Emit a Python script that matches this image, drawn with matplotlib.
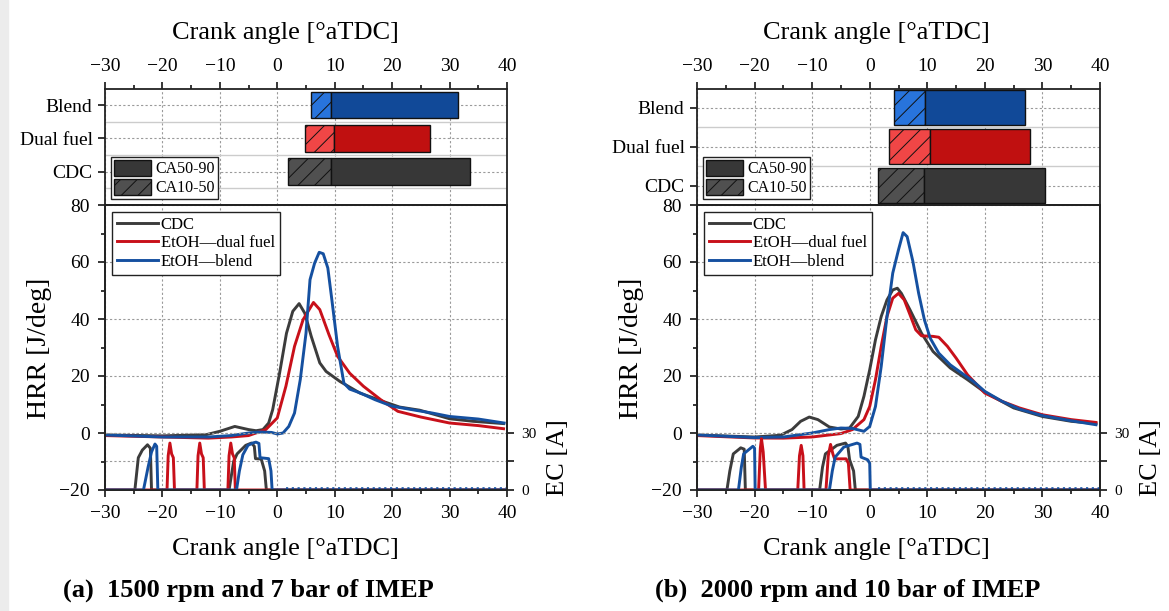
import matplotlib
matplotlib.use('Agg')
import matplotlib.pyplot as plt
from matplotlib.patches import Patch, Rectangle
from matplotlib.lines import Line2D
from matplotlib.ticker import MultipleLocator

plt.rcParams['font.family'] = ['Liberation Serif', 'DejaVu Serif']
plt.rcParams['hatch.linewidth'] = 0.7

c_cdc = '#3c3c3c'
c_df = '#c8101a'
c_bl = '#1550a0'

# combustion phasing bars: CA10, CA50, CA90 per case
cats = ['CDC', 'Dual fuel', 'Blend']
a_ca10 = [1.9, 4.9, 5.9]
a_ca50 = [9.4, 9.8, 9.4]
a_ca90 = [33.6, 26.6, 31.4]
b_ca10 = [1.4, 3.3, 4.3]
b_ca50 = [9.4, 10.4, 9.6]
b_ca90 = [30.4, 27.8, 26.9]

solid_cols = ['#373737', '#c01010', '#114998']
hatch_cols = ['#505050', '#f04646', '#2874dc']

# HRR, panel (a)
a_cdc_ca = [-30, -20, -12.4, -10, -7.4, -5, -3.7, -2.5, -1.5, -0.8, 0.4, 1.6, 2.7, 3.8, 4.8, 5.9,
            7.4, 8.5, 10.9, 14.4, 18.4, 21.3, 24.8, 30, 34.1, 39.4]
a_cdc_hrr = [-0.7, -1.0, -0.6, 0.6, 2.3, 1.2, 0.8, 1.2, 3.5, 8.2, 21, 35, 42.7, 45.4, 42, 34,
             24.6, 21.6, 18.1, 14, 11.1, 9.1, 8, 5, 4.1, 3.3]
a_df_ca = [-30, -20, -12, -8, -5, -2, 0, 1.5, 3, 4.5, 6.3, 7.4, 9, 10.5, 12.6, 15, 18, 21, 25,
           30, 35, 39.4]
a_df_hrr = [-0.9, -1.4, -1.8, -1.4, -0.9, 1.2, 5.3, 16.4, 30.4, 39.8, 45.8, 43.3, 34.5, 26.9,
            21, 16.4, 11.7, 7.6, 5.6, 3.5, 2.6, 1.5]
a_bl_ca = [-30, -20, -12, -8, -5, -3, -1, 0, 1, 2, 3, 4, 5, 5.7, 6.5, 7.3, 8, 8.8, 9.5, 10.5,
           11.6, 12.6, 14.5, 17, 20, 24, 27, 30, 35, 39.5]
a_bl_hrr = [-0.7, -1.4, -1.4, -0.9, 0, 0.35, 0.2, -0.35, 0, 2.3, 7, 18.7, 35, 53.8, 59.6, 63.4,
            62.9, 57.9, 46.8, 30.4, 17.5, 15.4, 14, 11.7, 9.4, 8, 7, 5.8, 4.9, 3.5]

# HRR, panel (b)
b_cdc_ca = [-30, -20, -15.5, -13.5, -12, -10.5, -9, -7, -5, -3.5, -2, -1, 0, 1, 2, 3, 4, 4.8,
            5.5, 7, 9, 11, 14, 17, 20, 25, 30, 35, 39.3]
b_cdc_hrr = [-0.7, -1.4, -0.8, 1.2, 4.1, 5.6, 4.7, 2.1, 1.4, 1.75, 5.8, 12.9, 22.2, 32.7, 40.9,
             46.7, 50.2, 50.8, 49, 43.2, 35, 28.6, 22.8, 18.7, 14.3, 8.8, 5.8, 4.1, 3.3]
b_df_ca = [-30, -20, -15, -10, -5, -3, -1, 0, 1, 2, 3, 4, 5, 6, 7, 8, 9, 11, 12, 13.5, 15, 17,
           20, 23, 26, 30, 35, 39.3]
b_df_hrr = [-0.9, -1.75, -1.8, -1.4, -0.2, 1.2, 4.7, 9.3, 18.7, 30.4, 40.9, 47.3, 49, 46.7,
            41.5, 36.2, 34.1, 33.9, 33.6, 30.4, 26.3, 20.4, 14, 11.1, 8.8, 6.4, 4.7, 3.7]
b_bl_ca = [-30, -20, -15, -10, -7, -5, -3, -1, 0, 1, 2, 3, 4, 5, 5.8, 6.5, 7.5, 8.5, 9.5, 10.5,
           12, 14, 16, 18, 20, 23, 26, 30, 35, 39.3]
b_bl_hrr = [-0.7, -1.6, -1.4, 0, 1.2, 1.75, 1.6, 0.6, 2.3, 9.3, 23.4, 40.9, 56.1, 64.3, 70.3,
            68.9, 60.2, 49, 39.7, 33.3, 28, 23.9, 21, 18.1, 14.6, 11.1, 8.4, 6.1, 4.3, 2.9]

# injector energizing current EC [A], panel (a)
a_cdc_ec_ca = [-30, -24.8, -24.2, -23.5, -22.6, -22.1, -21.9, -8.4, -7.6, -7.0, -5.5, -4.5,
               -4.0, -3.8, -2.8, -2.2, -1.9, 40]
a_cdc_ec = [0, 0, 17, 21, 23.8, 22, 0, 0, 15, 19, 23.5, 24.7, 23, 16.5, 16.3, 10, 0, 0]
a_df_ec_ca = [-30, -19.2, -19.0, -18.7, -18.4, -18.1, -17.9, -14.0, -13.8, -13.5, -13.2, -12.9,
              -12.7, -8.6, -8.4, -8.1, -7.8, -7.5, -7.3, 40]
a_df_ec = [0, 0, 18, 24.7, 19, 17, 0, 0, 18, 24.7, 19, 17, 0, 0, 18, 24.7, 19, 17, 0, 0]
a_bl_ec_ca = [-30, -23.3, -22.5, -21.9, -21.3, -21.0, -20.8, -7.1, -6.6, -6.0, -5.1, -4.2,
              -3.7, -3.2, -3.0, -1.5, -1.1, -0.9, 40]
a_bl_ec = [0, 0, 12, 20, 24.2, 23, 0, 0, 10, 18.5, 23.5, 24.8, 25.2, 24.5, 17, 16.5, 10, 0, 0]

# EC [A], panel (b)
b_cdc_ec_ca = [-30, -24.8, -24.3, -23.7, -22.4, -21.8, -21.6, -8.7, -8.2, -7.7, -5.7, -4.2,
               -3.8, -3.5, -2.8, -2.5, 40]
b_cdc_ec = [0, 0, 10, 19, 22.2, 21.5, 0, 0, 12, 19, 23.5, 24.7, 23, 16, 10, 0, 0]
b_df_ec_ca = [-30, -19.3, -19.0, -18.8, -18.5, -18.1, -12.5, -12.2, -11.9, -11.6, -11.4, -7.6,
              -7.2, -6.8, -6.4, -6.1, -4.1, -3.7, -3.4, 40]
b_df_ec = [0, 0, 22, 27, 20, 0, 0, 18, 23.5, 18, 0, 0, 18, 24, 19, 16.4, 16.4, 14, 0, 0]
b_bl_ec_ca = [-30, -22.8, -22.3, -21.9, -20.3, -20.0, -19.9, -7.0, -6.5, -6.0, -4.5, -2.2,
              -1.7, -1.5, -0.35, 0.0, 0.1, 40]
b_bl_ec = [0, 0, 12, 19, 23, 22, 0, 0, 10, 17.3, 22.6, 24.7, 24, 17.3, 15.9, 14, 0, 0]

# small ripple of the blend current trace after the injection
ripple_ca = [1.5, 40]
ripple_ec = [0.5, 0.5]

W, H = 1169, 611
fig = plt.figure(figsize=(W / 100, H / 100), dpi=100)
fig.patches.append(Rectangle((0, 0), 8 / W, 1, transform=fig.transFigure,
                             color='#ececec', zorder=-5))

grid_kw = dict(ls=(0, (2, 2)), color='#9a9a9a', lw=0.8)


def style_spines(ax):
    for s in ax.spines.values():
        s.set_linewidth(1.3)
        s.set_color('#222222')


def panel(x0, x1, ca10, ca50, ca90, bar_h, bar_ylim, hrr, ec, caption, cap_x, lab_x, hrr_x, ec_x):
    left = x0 / W
    width = (x1 - x0) / W
    # bars
    axb = fig.add_axes([left, 1 - 205 / H, width, (205 - 88.5) / H])
    ys = [1, 2, 3]
    for i in range(3):
        axb.barh(ys[i], ca50[i] - ca10[i], left=ca10[i], height=bar_h, color=hatch_cols[i],
                 edgecolor='#111111', lw=1, hatch='//', zorder=3)
        axb.barh(ys[i], ca90[i] - ca50[i], left=ca50[i], height=bar_h, color=solid_cols[i],
                 edgecolor='#111111', lw=1, zorder=3)
    axb.set_xlim(-30, 40)
    axb.set_ylim(*bar_ylim)
    axb.set_yticks(ys, cats)
    axb.set_yticks([0.5, 1.5, 2.5], minor=True)
    axb.xaxis.set_major_locator(MultipleLocator(10))
    axb.xaxis.set_minor_locator(MultipleLocator(5))
    axb.xaxis.tick_top()
    axb.tick_params(axis='x', which='both', direction='out', top=True, bottom=False,
                    labeltop=True, labelbottom=False, labelsize=14, pad=5)
    axb.tick_params(axis='x', which='major', length=5, width=1.1)
    axb.tick_params(axis='x', which='minor', length=3, width=1.1)
    axb.tick_params(axis='y', which='major', direction='out', length=5, width=1.1,
                    labelsize=14, pad=4)
    axb.tick_params(axis='y', which='minor', length=0)
    axb.grid(axis='x', which='major', **grid_kw)
    axb.grid(axis='y', which='major', **grid_kw)
    axb.grid(axis='y', which='minor', ls='-', color='#cccccc', lw=1)
    axb.set_axisbelow(True)
    style_spines(axb)
    hb = [Patch(facecolor='#373737', edgecolor='#111111', label='CA50-90'),
          Patch(facecolor='#505050', edgecolor='#111111', hatch='//', label='CA10-50')]
    axb.legend(handles=hb, loc='lower left', fontsize=11.5, handlelength=2.3, handleheight=1.15,
               labelspacing=0.1, borderpad=0.2, handletextpad=0.3, borderaxespad=0.35,
               fancybox=False, edgecolor='#222222', framealpha=1)

    # HRR and current
    ax = fig.add_axes([left, 1 - 490 / H, width, (490 - 205) / H])
    for (ca, v), c in zip(hrr, [c_cdc, c_df, c_bl]):
        ax.plot(ca, v, color=c, lw=2.1, solid_joinstyle='round')
    ax.set_xlim(-30, 40)
    ax.set_ylim(-20, 80)
    ax.xaxis.set_major_locator(MultipleLocator(10))
    ax.xaxis.set_minor_locator(MultipleLocator(5))
    ax.yaxis.set_major_locator(MultipleLocator(20))
    ax.yaxis.set_minor_locator(MultipleLocator(10))
    ax.tick_params(which='both', direction='out', labelsize=14, width=1.1, right=False,
                   top=False, pad=6)
    ax.tick_params(which='major', length=5)
    ax.tick_params(which='minor', length=3)
    ax.grid(which='major', **grid_kw)
    style_spines(ax)
    hl = [Line2D([], [], color=c_cdc, lw=2.1, label='CDC'),
          Line2D([], [], color=c_df, lw=2.1, label='EtOH\u2014dual fuel'),
          Line2D([], [], color=c_bl, lw=2.1, label='EtOH\u2014blend')]
    ax.legend(handles=hl, loc='upper left', fontsize=12, handlelength=2.5, handletextpad=0.15,
              labelspacing=0.15, borderpad=0.3, borderaxespad=0.4, fancybox=False,
              edgecolor='#222222', framealpha=1)

    ax2 = ax.twinx()
    for (ca, v), c in zip(ec, [c_cdc, c_df, c_bl]):
        ax2.plot(ca, v, color=c, lw=2.1, solid_joinstyle='round')
    ax2.plot(ripple_ca, ripple_ec, color=c_bl, lw=2.6, ls=(0, (0.6, 1.0)))
    ax2.set_ylim(0, 150)
    ax2.set_yticks([0, 15, 30], ['0', '', '30'])
    ax2.tick_params(direction='out', length=5, width=1.1, labelsize=11, pad=5)
    ax2.grid(axis='y', **grid_kw)
    style_spines(ax2)

    fig.text(lab_x / W, 1 - 33 / H, 'Crank angle [\u00b0aTDC]', ha='center', va='center',
             fontsize=19)
    fig.text(lab_x / W, 1 - 549 / H, 'Crank angle [\u00b0aTDC]', ha='center', va='center',
             fontsize=19)
    fig.text(hrr_x / W, 1 - 348 / H, 'HRR [J/deg]', ha='center', va='center', rotation=90,
             fontsize=20)
    fig.text(ec_x / W, 1 - 458 / H, 'EC [A]', ha='center', va='center', rotation=90,
             fontsize=19)
    fig.text(cap_x / W, 1 - 590 / H, caption, ha='left', va='center', fontsize=19,
             fontweight='bold')


panel(105, 507, a_ca10, a_ca50, a_ca90, 0.8, (0, 3.5),
      [(a_cdc_ca, a_cdc_hrr), (a_df_ca, a_df_hrr), (a_bl_ca, a_bl_hrr)],
      [(a_cdc_ec_ca, a_cdc_ec), (a_df_ec_ca, a_df_ec), (a_bl_ec_ca, a_bl_ec)],
      '(a)  1500 rpm and 7 bar of IMEP', 63, 285, 40, 558)
panel(697, 1100, b_ca10, b_ca50, b_ca90, 0.9, (0.5, 3.5),
      [(b_cdc_ca, b_cdc_hrr), (b_df_ca, b_df_hrr), (b_bl_ca, b_bl_hrr)],
      [(b_cdc_ec_ca, b_cdc_ec), (b_df_ec_ca, b_df_ec), (b_bl_ec_ca, b_bl_ec)],
      '(b)  2000 rpm and 10 bar of IMEP', 655, 876, 632, 1151)

fig.savefig('out.png', dpi=100)
